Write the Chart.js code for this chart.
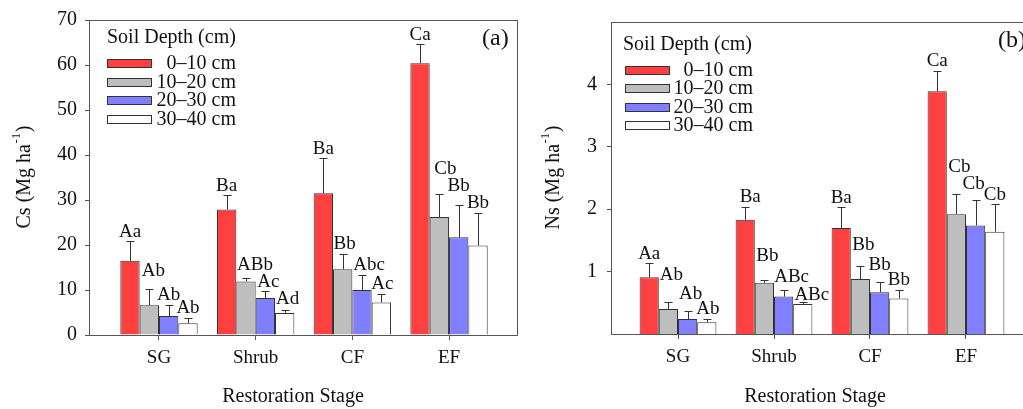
<!DOCTYPE html>
<html>
<head>
<meta charset="utf-8">
<script src="https://cdn.jsdelivr.net/npm/chart.js@4.4.1/dist/chart.umd.min.js"></script>
<style>
  html, body { margin: 0; padding: 0; background: #fff; overflow: hidden; }
  .panel { position: absolute; top: 0; height: 409px; }
  #panelA { left: 0; width: 520px; }
  #panelB { left: 520px; width: 516px; }
</style>
</head>
<body>
<div class="panel" id="panelA"><canvas id="chartA" width="520" height="409"></canvas></div>
<div class="panel" id="panelB"><canvas id="chartB" width="516" height="409"></canvas></div>
<script>
// restoration stages and soil depths
const stages = ['SG', 'Shrub', 'CF', 'EF'];
const depthLabels = ['0\u201310 cm', '10\u201320 cm', '20\u201330 cm', '30\u201340 cm'];
const legendTitle = 'Soil Depth (cm)';
const xTitle = 'Restoration Stage';

// (a) soil carbon stock, Mg ha-1 (mean, SD, letters) per depth
const cs0_10 = [16.5, 27.9, 31.5, 60.4];
const cs10_20 = [6.6, 11.9, 14.6, 26.2];
const cs20_30 = [4.2, 8.2, 10.0, 21.7];
const cs30_40 = [2.6, 4.9, 7.2, 19.9];
const csSd0_10 = [4.5, 3.3, 7.9, 4.3];
const csSd10_20 = [3.6, 0.7, 3.5, 5.1];
const csSd20_30 = [2.5, 1.5, 3.3, 7.2];
const csSd30_40 = [1.1, 0.6, 2.0, 7.2];
const csLet0_10 = ['Aa', 'Ba', 'Ba', 'Ca'];
const csLet10_20 = ['Ab', 'ABb', 'Bb', 'Cb'];
const csLet20_30 = ['Ab', 'Ac', 'Abc', 'Bb'];
const csLet30_40 = ['Ab', 'Ad', 'Ac', 'Bb'];
const csTicks = [0, 10, 20, 30, 40, 50, 60, 70];

// (b) soil nitrogen stock, Mg ha-1
const ns0_10 = [0.91, 1.83, 1.70, 3.89];
const ns10_20 = [0.40, 0.82, 0.88, 1.92];
const ns20_30 = [0.24, 0.60, 0.67, 1.74];
const ns30_40 = [0.19, 0.48, 0.57, 1.64];
const nsSd0_10 = [0.23, 0.21, 0.34, 0.33];
const nsSd10_20 = [0.11, 0.05, 0.21, 0.32];
const nsSd20_30 = [0.13, 0.11, 0.17, 0.40];
const nsSd30_40 = [0.05, 0.04, 0.13, 0.45];
const nsLet0_10 = ['Aa', 'Ba', 'Ba', 'Ca'];
const nsLet10_20 = ['Ab', 'Bb', 'Bb', 'Cb'];
const nsLet20_30 = ['Ab', 'ABc', 'Bb', 'Cb'];
const nsLet30_40 = ['Ab', 'ABc', 'Bb', 'Cb'];
const nsTicks = [1, 2, 3, 4];

const serif = "'Liberation Serif', 'Times New Roman', serif";
const depthColors = ['#ff4040', '#bebebe', '#7f7fff', '#ffffff'];
const axisColor = '#555';
const textColor = '#111';

// frame, error bars, letters, legend and titles
const decor = {
  id: 'decor',
  afterDraw(chart, args, o) {
    const { ctx, chartArea: a } = chart;
    const y = chart.scales.y;
    ctx.save();
    ctx.lineWidth = 1;
    ctx.strokeStyle = axisColor;
    ctx.strokeRect(Math.round(a.left) + 0.5, Math.round(a.top) + 0.5,
      Math.round(a.right - a.left), Math.round(a.bottom - a.top));

    ctx.font = `19px ${serif}`;
    ctx.textAlign = 'center';
    ctx.textBaseline = 'alphabetic';
    chart.data.datasets.forEach((ds, d) => {
      chart.getDatasetMeta(d).data.forEach((bar, i) => {
        const top = Math.round(y.getPixelForValue(ds.data[i].y + ds.sd[i])) + 0.5;
        const x = Math.round(bar.x) + 0.5;
        ctx.strokeStyle = '#333';
        ctx.beginPath();
        ctx.moveTo(x, bar.y);
        ctx.lineTo(x, top);
        ctx.moveTo(x - 4, top);
        ctx.lineTo(x + 4, top);
        ctx.stroke();
        // letters sit above the error bar, some lifted to avoid overlaps
        const [dx, lift] = o.nudge[d][i];
        ctx.fillStyle = textColor;
        ctx.fillText(ds.letters[i], bar.x + dx, top - 5 - lift);
      });
    });

    // legend
    const L = o.legend;
    ctx.font = `20px ${serif}`;
    ctx.textBaseline = 'middle';
    ctx.textAlign = 'left';
    ctx.fillStyle = textColor;
    ctx.fillText(legendTitle, a.left + L.titleDx, a.top + L.titleDy);
    chart.data.datasets.forEach((ds, d) => {
      const cy = Math.round(a.top + L.rowDy + d * L.rowGap);
      const bx = Math.round(a.left + L.boxDx);
      ctx.fillStyle = ds.backgroundColor;
      ctx.fillRect(bx, cy - 4, 45, 9);
      ctx.strokeStyle = '#333';
      ctx.strokeRect(bx + 0.5, cy - 3.5, 44, 8);
      ctx.fillStyle = textColor;
      ctx.textAlign = 'right';
      ctx.fillText(ds.label, a.left + L.textDx, cy + 1);
    });

    // panel tag
    ctx.font = `24px ${serif}`;
    ctx.textAlign = 'left';
    ctx.fillText(o.tag, a.right - 35, a.top + 19);

    // x title
    ctx.font = `20px ${serif}`;
    ctx.textAlign = 'center';
    ctx.fillText(xTitle, (a.left + a.right) / 2 + o.xTitleDx, 397);

    // y title with superscript
    const cy = (a.top + a.bottom) / 2;
    ctx.translate(o.yTitleX, cy);
    ctx.rotate(-Math.PI / 2);
    const [t1, t2, t3] = o.yTitle;
    ctx.font = `20px ${serif}`;
    const w1 = ctx.measureText(t1).width;
    const w3 = ctx.measureText(t3).width;
    ctx.font = `13px ${serif}`;
    const w2 = ctx.measureText(t2).width;
    const start = -(w1 + w2 + w3) / 2;
    ctx.textAlign = 'left';
    ctx.font = `20px ${serif}`;
    ctx.fillText(t1, start, 0);
    ctx.fillText(t3, start + w1 + w2 + 1, 0);
    ctx.font = `13px ${serif}`;
    ctx.fillText(t2, start + w1 + 0.5, -8);
    ctx.restore();
  }
};

function makeChart(id, cfg) {
  const datasets = depthLabels.map((label, d) => ({
    label,
    data: stages.map((s, i) => ({ x: i + 1, y: cfg.values[d][i] })),
    sd: cfg.sd[d],
    letters: cfg.letters[d],
    backgroundColor: depthColors[d],
    borderColor: '#333',
    borderWidth: 1,
    categoryPercentage: 0.8,
    barPercentage: 1.0,
  }));

  return new Chart(document.getElementById(id), {
    type: 'bar',
    data: { datasets },
    plugins: [decor],
    options: {
      responsive: false,
      animation: false,
      events: [],
      layout: { padding: { top: 16, right: 3, left: 0, bottom: 0 } },
      plugins: {
        legend: { display: false },
        tooltip: { enabled: false },
        decor: cfg.decor,
      },
      scales: {
        x: {
          type: 'linear',
          offset: false,
          min: cfg.xMin,
          max: cfg.xMax,
          afterBuildTicks: (s) => { s.ticks = stages.map((_, i) => ({ value: i + 1 })); },
          afterFit: (s) => { s.height = cfg.xHeight; },
          ticks: {
            callback: (v) => stages[v - 1],
            font: { family: serif, size: 19 },
            color: textColor,
            padding: 7,
            maxRotation: 0,
            autoSkip: false,
          },
          grid: { offset: false, drawOnChartArea: false, tickLength: 5, color: axisColor },
          border: { display: false },
        },
        y: {
          min: 0,
          max: cfg.yMax,
          afterBuildTicks: (s) => { s.ticks = cfg.yTicks.map((v) => ({ value: v })); },
          afterFit: (s) => { s.width = cfg.yWidth; },
          ticks: {
            font: { family: serif, size: 20 },
            color: textColor,
            padding: cfg.yPad,
          },
          grid: { drawOnChartArea: false, tickLength: 4, color: axisColor },
          border: { display: false },
        },
      },
    },
  });
}

makeChart('chartA', {
  values: [cs0_10, cs10_20, cs20_30, cs30_40],
  sd: [csSd0_10, csSd10_20, csSd20_30, csSd30_40],
  letters: [csLet0_10, csLet10_20, csLet20_30, csLet30_40],
  yMax: 70,
  yTicks: csTicks,
  xMin: 0.276,
  xMax: 4.703,
  yWidth: 89,
  xHeight: 74,
  yPad: 8,
  decor: {
    tag: '(a)',
    yTitle: ['Cs (Mg ha', '-1', ')'],
    yTitleX: 25,
    xTitleDx: -10,
    legend: { titleDx: 18, titleDy: 18, boxDx: 18, rowDy: 43, rowGap: 18.5, textDx: 147 },
    nudge: [
      [[0, 0], [0, 0], [0, 0], [0, 0]],
      [[4, 9], [9, 4], [2, 1], [6, 16]],
      [[0, 1], [3, 0], [7, 1], [0, 10]],
      [[0, 1], [3, 2], [1, 1], [0, 1]],
    ],
  },
});

makeChart('chartB', {
  values: [ns0_10, ns10_20, ns20_30, ns30_40],
  sd: [nsSd0_10, nsSd10_20, nsSd20_30, nsSd30_40],
  letters: [nsLet0_10, nsLet10_20, nsLet20_30, nsLet30_40],
  yMax: 5,
  yTicks: nsTicks,
  xMin: 0.302,
  xMax: 4.698,
  yWidth: 91,
  xHeight: 75,
  yPad: 10,
  decor: {
    tag: '(b)',
    yTitle: ['Ns (Mg ha', '-1', ')'],
    yTitleX: 34,
    xTitleDx: -7,
    legend: { titleDx: 12, titleDy: 23, boxDx: 14, rowDy: 48, rowGap: 18.3, textDx: 142 },
    nudge: [
      [[0, 0], [5, 1], [0, 0], [0, 1]],
      [[3, 18], [3, 15], [3, 12], [3, 18]],
      [[3, 8], [8, 4], [0, 8], [-2, 7]],
      [[1, 1], [9, -2], [0, 1], [0, 0]],
    ],
  },
});
</script>
</body>
</html>
